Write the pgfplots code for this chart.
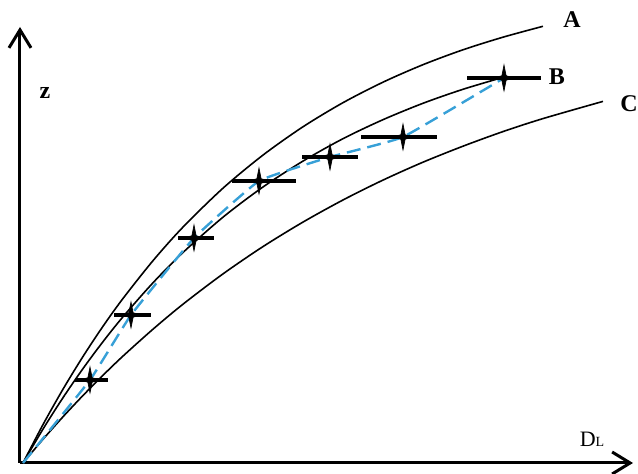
\documentclass[border=0pt]{standalone}
\usepackage{fontspec}
\setmainfont{Liberation Serif}
\usepackage{pgfplots}
\pgfplotsset{compat=1.18}
\usetikzlibrary{arrows.meta}

% four-point star used for the measured points
\pgfdeclareplotmark{spark}{%
  \pgfpathmoveto{\pgfqpoint{0pt}{6.5pt}}%
  \pgfpathlineto{\pgfqpoint{1.1pt}{1.1pt}}%
  \pgfpathlineto{\pgfqpoint{5.5pt}{0pt}}%
  \pgfpathlineto{\pgfqpoint{1.1pt}{-1.1pt}}%
  \pgfpathlineto{\pgfqpoint{0pt}{-6.5pt}}%
  \pgfpathlineto{\pgfqpoint{-1.1pt}{-1.1pt}}%
  \pgfpathlineto{\pgfqpoint{-5.5pt}{0pt}}%
  \pgfpathlineto{\pgfqpoint{-1.1pt}{1.1pt}}%
  \pgfpathclose
  \pgfusepathqfillstroke}

\definecolor{dashblue}{RGB}{55,160,215}

\pgfplotstableread{
x   y   em  ep
67  83  15  18
108 148 17  20
171 225 16  20
236 282 27  37
307 306 28  28
380 326 42  34
481 385 37  37
}\points

\begin{document}
\begin{tikzpicture}
\begin{axis}[
    x=0.5pt, y=0.5pt,
    xmin=-3, xmax=610,
    ymin=0, ymax=436,
    axis lines=left,
    axis line style={line width=1.5pt, -{Straight Barb[length=9pt,width=11pt,line width=1.5pt]}},
    xtick=\empty, ytick=\empty,
    clip=false,
    every axis plot/.append style={line width=0.8pt},
    font=\fontsize{11}{13}\selectfont,
]
% curve A
\addplot[black, smooth, no marks] coordinates {
  (0,0) (20,38.4) (40,73.8) (60,106.5) (80,136.7) (100,164.5) (130,202.3)
  (160,235.9) (200,274.8) (240,307.9) (280,336.2) (320,360.3) (360,380.8)
  (400,398.3) (440,413.2) (480,425.8) (520,436.7)};
% curve B
\addplot[black, smooth, no marks] coordinates {
  (0,0) (20,33.9) (40,65.3) (60,94.4) (80,121.3) (100,146.2) (130,180.2)
  (160,210.5) (200,245.8) (240,276.0) (280,301.9) (320,324.3) (360,343.3)
  (400,359.7) (440,373.7) (484,386.8)};
% curve C
\addplot[black, smooth, no marks] coordinates {
  (0,0) (20,23.7) (40,46.2) (60,67.5) (80,87.7) (100,106.9) (130,133.8)
  (160,158.8) (200,189.1) (240,216.4) (280,240.9) (320,263.0) (360,282.9)
  (400,300.8) (440,316.8) (480,331.4) (520,344.4) (580,361.6)};
% fitted dashed line
\addplot[dashblue, line width=1.2pt, dash pattern=on 7pt off 3.5pt, smooth, tension=0.2, no marks]
  coordinates {(0,0) (67,83) (108,148) (171,225) (236,282) (307,306) (380,326) (481,385)};
% measured points with horizontal error bars
\addplot[black, only marks, mark=spark, mark size=3pt,
    mark options={fill=black, line width=0.3pt},
    error bars/.cd, x dir=both, x explicit,
    error mark=none, error bar style={line width=2pt, black}]
  table[x=x, y=y, x error plus=ep, x error minus=em] {\points};

\node[font=\fontsize{12}{14}\selectfont\bfseries] at (axis cs:22,370) {z};
\node[font=\fontsize{12}{14}\selectfont\bfseries] at (axis cs:549,443) {A};
\node[font=\fontsize{12}{14}\selectfont\bfseries] at (axis cs:534,386) {B};
\node[font=\fontsize{12}{14}\selectfont\bfseries] at (axis cs:606,359) {C};
\node at (axis cs:569,24) {D{\fontsize{7}{8}\selectfont L}};

\coordinate (bl) at (axis cs:-23,-11);
\coordinate (tr) at (axis cs:615,463);
\end{axis}
\pgfresetboundingbox
\path (bl) rectangle (tr);
\end{tikzpicture}
\end{document}
